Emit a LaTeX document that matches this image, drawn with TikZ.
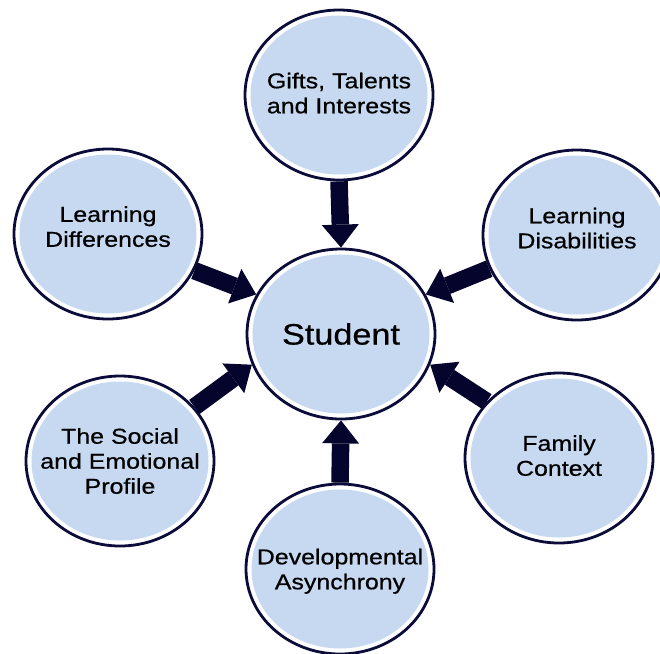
\documentclass[tikz,border=0pt]{standalone}
\usepackage{fontspec}
\setmainfont{Liberation Sans}[FakeStretch=1.16, FakeBold=0.6]
\usetikzlibrary{shapes.geometric,arrows.meta}
\definecolor{rimnavy}{RGB}{12,12,58}
\definecolor{arrownavy}{RGB}{4,4,44}
\definecolor{paleblue}{RGB}{198,217,241}
\begin{document}
\begin{tikzpicture}[x=1pt, y=-1pt,
	bubble/.style={ellipse, draw=rimnavy, line width=2.8pt, fill=white,
		minimum width=188pt, minimum height=170pt, inner sep=-25pt, align=center,
		font=\fontsize{21.5}{25}\selectfont,
		path picture={\fill [paleblue] (path picture bounding box.center) ellipse [x radius=88.5pt, y radius=79.5pt];}},
	feed/.style={draw=arrownavy, line width=17.5pt, -{Triangle[width=37pt, length=23pt, line width=0pt]}}]
	\useasboundingbox (0,0) rectangle (660,653);
	\node [bubble, font=\fontsize{29.5}{32}\selectfont] (student) at (341,334) {Student};
	\node [bubble, text depth=4pt] (gifts) at (339,95) {Gifts, Talents\\and Interests};
	\node [bubble, text depth=15pt] (differences) at (108,234) {Learning\\Differences};
	\node [bubble, text depth=14pt] (disabilities) at (577,235) {Learning\\Disabilities};
	\node [bubble] (social) at (120,461) {The Social\\and Emotional\\Profile};
	\node [bubble, text depth=5pt] (family) at (559,458) {Family\\Context};
	\node [bubble, text depth=0pt] (async) at (340,569) {Developmental\\Asynchrony};
	\draw [feed] (gifts.south) -- (student.north);
	\draw [feed] (async.north) -- (student.south);
	\draw [feed] (differences.-23) -- (student.155);
	\draw [feed] (disabilities.201) -- (student.25);
	\draw [feed] (social.36) -- (student.199);
	\draw [feed] (family.142) -- (student.-19);
\end{tikzpicture}
\end{document}
